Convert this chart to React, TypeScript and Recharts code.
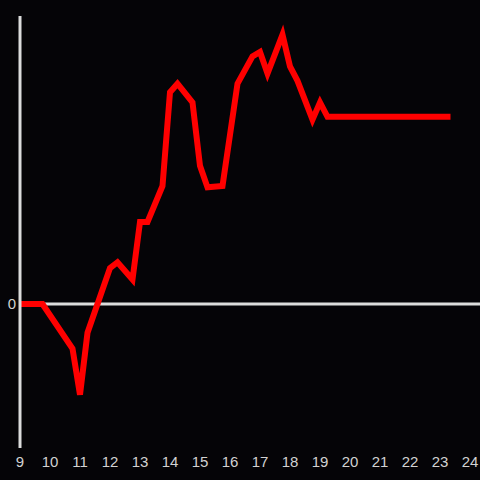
import { LineChart, Line, XAxis, YAxis, ReferenceLine } from 'recharts'

// time of day (hours) and value
const hours = [
  9.0, 9.75, 10.75, 11.0, 11.25, 12.0, 12.25, 12.75, 13.0, 13.25, 13.75, 14.0,
  14.25, 14.75, 15.0, 15.25, 15.75, 16.25, 16.75, 17.0, 17.25, 17.75, 18.0,
  18.25, 18.75, 19.0, 19.25, 23.35,
]
const values = [
  0, 0, -0.31, -0.63, -0.2, 0.25, 0.29, 0.17, 0.57, 0.57, 0.82, 1.47, 1.53,
  1.4, 0.96, 0.81, 0.82, 1.53, 1.72, 1.75, 1.6, 1.87, 1.65, 1.55, 1.28, 1.4,
  1.3, 1.3,
]
const xTicks = [9, 10, 11, 12, 13, 14, 15, 16, 17, 18, 19, 20, 21, 22, 23, 24]
const yTicks = [0]

const data = hours.map((t, i) => ({ t, v: values[i] }))

const AXIS = '#dcdcdc'
const TICK = { fill: '#d2d2d2', fontSize: 15, fontFamily: 'Liberation Sans, Arial, sans-serif' }

export default function App() {
  return (
    <div style={{ position: 'absolute', top: 0, left: 0, width: 480, height: 480, background: '#050407' }}>
      <LineChart
        width={480}
        height={480}
        data={data}
        margin={{ top: 16, right: 0, bottom: 2, left: 0 }}
      >
        <XAxis
          dataKey="t"
          type="number"
          domain={[9, 24 + 1 / 3]}
          ticks={xTicks}
          axisLine={false}
          tickLine={false}
          height={30}
          tick={TICK}
          interval={0}
        />
        <YAxis
          type="number"
          domain={[-1, 2]}
          ticks={yTicks}
          width={20}
          tickLine={false}
          tickSize={2}
          tickMargin={2}
          axisLine={{ stroke: AXIS, strokeWidth: 3 }}
          tick={TICK}
        />
        <ReferenceLine y={0} stroke={AXIS} strokeWidth={3} />
        <Line
          dataKey="v"
          stroke="#ff0000"
          strokeWidth={6}
          dot={false}
          type="linear"
          isAnimationActive={false}
        />
      </LineChart>
    </div>
  )
}
